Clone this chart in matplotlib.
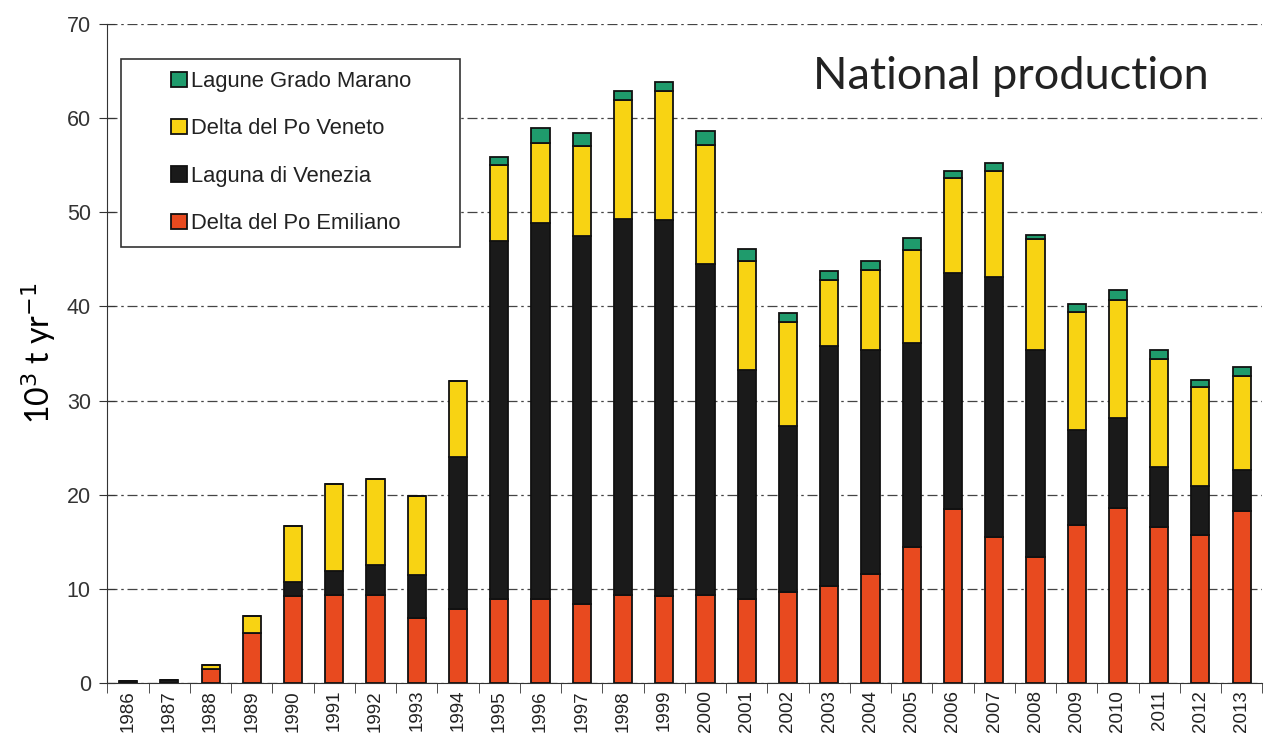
import matplotlib
matplotlib.use("Agg")
import matplotlib.pyplot as plt
from matplotlib.patches import Rectangle
import numpy as np

years = [str(y) for y in range(1986, 2014)]
# cumulative tops (10^3 t/yr)
red_top = [0.0, 0.0, 1.5, 5.3, 9.2, 9.4, 9.4, 6.9, 7.9, 8.9, 8.9, 8.4, 9.3, 9.2,
           9.4, 8.9, 9.7, 10.3, 11.6, 14.5, 18.5, 15.5, 13.4, 16.8, 18.6, 16.6, 15.7, 18.3]
black_top = [0.2, 0.35, 1.5, 5.3, 10.7, 11.9, 12.5, 11.5, 24.0, 47.0, 48.9, 47.5, 49.3, 49.2,
             44.5, 33.3, 27.3, 35.8, 35.4, 36.1, 43.6, 43.1, 35.4, 26.9, 28.2, 23.0, 20.9, 22.6]
yellow_top = [0.2, 0.35, 1.95, 7.1, 16.7, 21.1, 21.7, 19.9, 32.1, 55.0, 57.4, 57.0, 61.9, 62.9,
              57.2, 44.8, 38.3, 42.8, 43.9, 46.0, 53.7, 54.4, 47.2, 39.4, 40.7, 34.4, 31.4, 32.6]
green_top = [0.2, 0.35, 1.95, 7.1, 16.7, 21.1, 21.7, 19.9, 32.1, 55.9, 59.0, 58.4, 62.9, 63.9,
             58.6, 46.1, 39.3, 43.8, 44.8, 47.3, 54.4, 55.2, 47.6, 40.3, 41.7, 35.4, 32.2, 33.6]

series_names = ["Delta del Po Emiliano", "Laguna di Venezia",
                "Delta del Po Veneto", "Lagune Grado Marano"]
colors = ["#E84A1F", "#1A1A1A", "#F8D313", "#1F9B6C"]

red = np.array(red_top)
black = np.array(black_top) - red
yellow = np.array(yellow_top) - np.array(black_top)
green = np.array(green_top) - np.array(yellow_top)

fig = plt.figure(figsize=(12.69, 7.47), dpi=100)
ax = fig.add_axes([0.0847, 0.0857, 0.910, 0.882])

x = np.arange(len(years))
w = 0.44
bottom = np.zeros(len(years))
handles = []
for vals, c, name in zip([red, black, yellow, green], colors, series_names):
    b = ax.bar(x, vals, w, bottom=bottom, color=c, edgecolor="#111111",
               linewidth=1.3, label=name, zorder=3)
    handles.append(b)
    bottom = bottom + vals

ax.set_xlim(-0.5, len(years) - 0.5)
ax.set_ylim(0, 70)
ax.set_yticks(range(0, 71, 10))
ax.set_yticklabels([str(v) for v in range(0, 71, 10)], fontsize=15.5,
                   family="Liberation Sans", color="#333333")
ax.set_xticks(x)
ax.set_xticklabels(years, rotation=90, fontsize=13.5, family="Liberation Sans",
                   color="#222222")
ax.set_xticks(np.arange(-0.5, len(years), 1), minor=True)
ax.tick_params(axis="x", which="major", length=0, pad=5)
ax.tick_params(axis="x", which="minor", length=7, direction="out", color="#333333")
ax.tick_params(axis="y", length=12, direction="inout", color="#333333", pad=6)

ax.yaxis.grid(True, linestyle=(0, (8, 3, 2, 3)), color="#444444", linewidth=0.9, zorder=0)
ax.spines["top"].set_visible(False)
ax.spines["right"].set_visible(False)
ax.spines["left"].set_color("#333333")
ax.spines["bottom"].set_color("#333333")

ax.set_ylabel("10$^3$ t yr$^{-1}$", fontsize=23, family="Lato", labelpad=6)

ax.text(0.954, 0.92, "National production", transform=ax.transAxes, ha="right",
        va="center", fontsize=32.5, family="Lato", color="#222222")

# legend frame is wider than its content, so draw it separately
ax.add_patch(Rectangle((0.0121, 0.662), 0.293, 0.285, transform=ax.transAxes,
                       facecolor="white", edgecolor="#333333", linewidth=1.2, zorder=4))
leg = ax.legend(handles[::-1], series_names[::-1], loc="upper left",
                bbox_to_anchor=(0.0554, 0.929), frameon=False,
                prop={"family": "Liberation Sans", "size": 15.8},
                handlelength=0.7, handleheight=0.7, handletextpad=0.2,
                labelspacing=1.2, borderpad=0, borderaxespad=0)
for t in leg.get_texts():
    t.set_color("#222222")
leg.set_zorder(5)

fig.savefig("out.png", dpi=100, facecolor="white")
